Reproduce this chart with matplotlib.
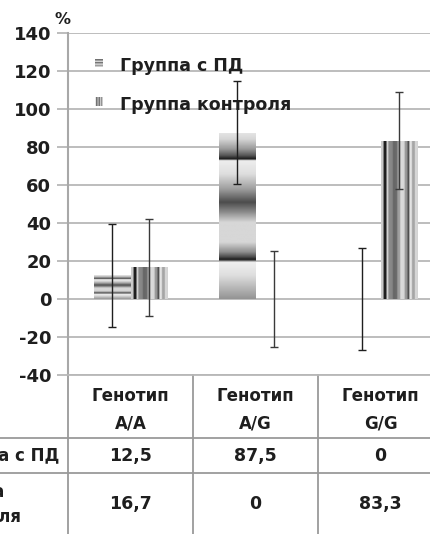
import numpy as np
import matplotlib
matplotlib.use("Agg")
import matplotlib.pyplot as plt
from matplotlib.transforms import blended_transform_factory

plt.rcParams['font.family'] = ['DejaVu Sans']
plt.rcParams['font.weight'] = 'bold'

categories = ["Генотип\nA/A", "Генотип\nA/G", "Генотип\nG/G"]
series_names = ["Группа с ПД", "Группа контроля"]
pd_values = [12.5, 87.5, 0.0]
ctrl_values = [16.7, 0.0, 83.3]
pd_err = [27.0, 27.0, 27.0]
ctrl_err = [25.5, 25.5, 25.5]
pd_labels = ["12,5", "87,5", "0"]
ctrl_labels = ["16,7", "0", "83,3"]
yticks = [-40, -20, 0, 20, 40, 60, 80, 100, 120, 140]

W, H = 430, 534
fig = plt.figure(figsize=(W / 100, H / 100), dpi=100)
ax = fig.add_axes([68 / W, 1 - 375 / H, 375 / W, (375 - 33) / H])

TXT = '#1e1e1e'
GRID = '#b8b8b8'
LINE = '#9a9a9a'

# texture profiles (style only)
def profile(stops, n=300):
    t = np.linspace(0, 1, n)
    ps, gs = zip(*stops)
    return np.interp(t, ps, gs)

pd_stops = [(0.00, 0.90), (0.04, 0.84), (0.10, 0.60), (0.14, 0.33), (0.16, 0.10),
            (0.17, 0.93), (0.25, 0.87), (0.34, 0.62), (0.42, 0.30), (0.48, 0.55),
            (0.54, 0.84), (0.66, 0.84), (0.72, 0.55), (0.75, 0.28), (0.765, 0.10),
            (0.78, 0.94), (0.86, 0.87), (1.00, 0.58)]
ctrl_stops = [(0.0, 0.80), (0.06, 0.78), (0.075, 0.12), (0.14, 0.12), (0.155, 0.85),
              (0.19, 0.82), (0.205, 0.55), (0.31, 0.52), (0.33, 0.40), (0.43, 0.42),
              (0.45, 0.62), (0.51, 0.62), (0.53, 0.86), (0.63, 0.84), (0.65, 0.60),
              (0.71, 0.58), (0.725, 0.30), (0.76, 0.30), (0.775, 0.90), (0.83, 0.88),
              (0.845, 0.65), (0.91, 0.65), (0.925, 0.86), (1.0, 0.82)]
pd_tex = profile(pd_stops)[:, None]
ctrl_tex = profile(ctrl_stops)[None, :]

x = np.arange(len(categories))
bw = 0.29
bars_pd = ax.bar(x - bw / 2, pd_values, bw, color='none', edgecolor='none', zorder=2)
bars_ct = ax.bar(x + bw / 2, ctrl_values, bw, color='none', edgecolor='none', zorder=2)

for bars, tex in ((bars_pd, pd_tex), (bars_ct, ctrl_tex)):
    for p in bars:
        h = p.get_height()
        if h <= 0:
            continue
        x0 = p.get_x()
        im = ax.imshow(tex, extent=[x0, x0 + p.get_width(), 0, h], aspect='auto',
                       cmap='gray', vmin=0, vmax=1, origin='upper', zorder=2,
                       interpolation='bilinear')
        im.set_clip_path(p)

ax.errorbar(x - bw / 2, pd_values, yerr=pd_err, fmt='none', ecolor='#1e1e1e',
            elinewidth=1.0, capsize=2.8, capthick=1.0, zorder=3)
ax.errorbar(x + bw / 2, ctrl_values, yerr=ctrl_err, fmt='none', ecolor='#3a3a3a',
            elinewidth=1.0, capsize=2.8, capthick=1.0, zorder=3)

ax.set_xlim(-0.5, 2.5)
ax.set_ylim(-40, 140)
ax.set_yticks(yticks)
ax.set_yticklabels([str(v) for v in yticks], fontsize=13, fontweight='bold', color=TXT)
ax.set_xticks([])
ax.yaxis.grid(True, color=GRID, lw=1.3)
ax.set_axisbelow(True)
ax.tick_params(axis='y', length=8, width=1.3, color=GRID, pad=4)
for s in ('top', 'right'):
    ax.spines[s].set_visible(False)
ax.spines['left'].set_color('#a8a8a8')
ax.spines['left'].set_linewidth(1.5)
ax.spines['bottom'].set_color(GRID)
ax.spines['bottom'].set_linewidth(1.3)

fig.text(62 / W, 1 - 20 / H, "%", fontsize=11.5, fontweight='bold', color=TXT,
         ha='center', va='center')

# legend
icon = profile([(0, .9), (0.2, .4), (0.35, .85), (0.55, .45), (0.7, .85), (0.85, .5), (1, .8)], 12)
for i, (name, tex) in enumerate(zip(series_names, [icon[:, None], icon[None, :]])):
    yc = [63, 102][i]
    iax = fig.add_axes([95 / W, 1 - (yc + 4.5) / H, 8 / W, 9 / H])
    iax.imshow(tex, cmap='gray', vmin=0, vmax=1, aspect='auto', interpolation='nearest')
    iax.axis('off')
    fig.text(120 / W, 1 - [71, 110][i] / H, name, fontsize=12.5, fontweight='bold',
             color=TXT, ha='left', va='baseline')

# table below
bt = blended_transform_factory(ax.transData, fig.transFigure)
ytop = 1 - 375 / H
for xb in [-0.5, 0.5, 1.5, 2.5]:
    ax.plot([xb, xb], [ytop, 0], transform=bt, color=LINE, lw=1.3, clip_on=False)
for yl in [438, 473]:
    fig.add_artist(plt.Line2D([0, 1], [1 - yl / H] * 2, color=LINE, lw=1.3))

for i, cat in enumerate(categories):
    l1, l2 = cat.split("\n")
    ax.text(i, 1 - 396 / H, l1, transform=bt, ha='center', va='center', fontsize=12,
            fontweight='bold', color=TXT)
    ax.text(i, 1 - 423 / H, l2, transform=bt, ha='center', va='center', fontsize=12,
            fontweight='bold', color=TXT)
    ax.text(i, 1 - 456 / H, pd_labels[i], transform=bt, ha='center', va='center',
            fontsize=12.5, fontweight='bold', color=TXT)
    ax.text(i, 1 - 504 / H, ctrl_labels[i], transform=bt, ha='center', va='center',
            fontsize=12.5, fontweight='bold', color=TXT)

fig.text(59 / W, 1 - 456 / H, series_names[0], ha='right', va='center', fontsize=12,
         fontweight='bold', color=TXT)
w1, w2 = series_names[1].split(" ")
fig.text(5 / W, 1 - 492 / H, w1, ha='right', va='center', fontsize=12,
         fontweight='bold', color=TXT)
fig.text(22 / W, 1 - 517 / H, w2, ha='right', va='center', fontsize=12,
         fontweight='bold', color=TXT)

fig.savefig("out.png", dpi=100)
